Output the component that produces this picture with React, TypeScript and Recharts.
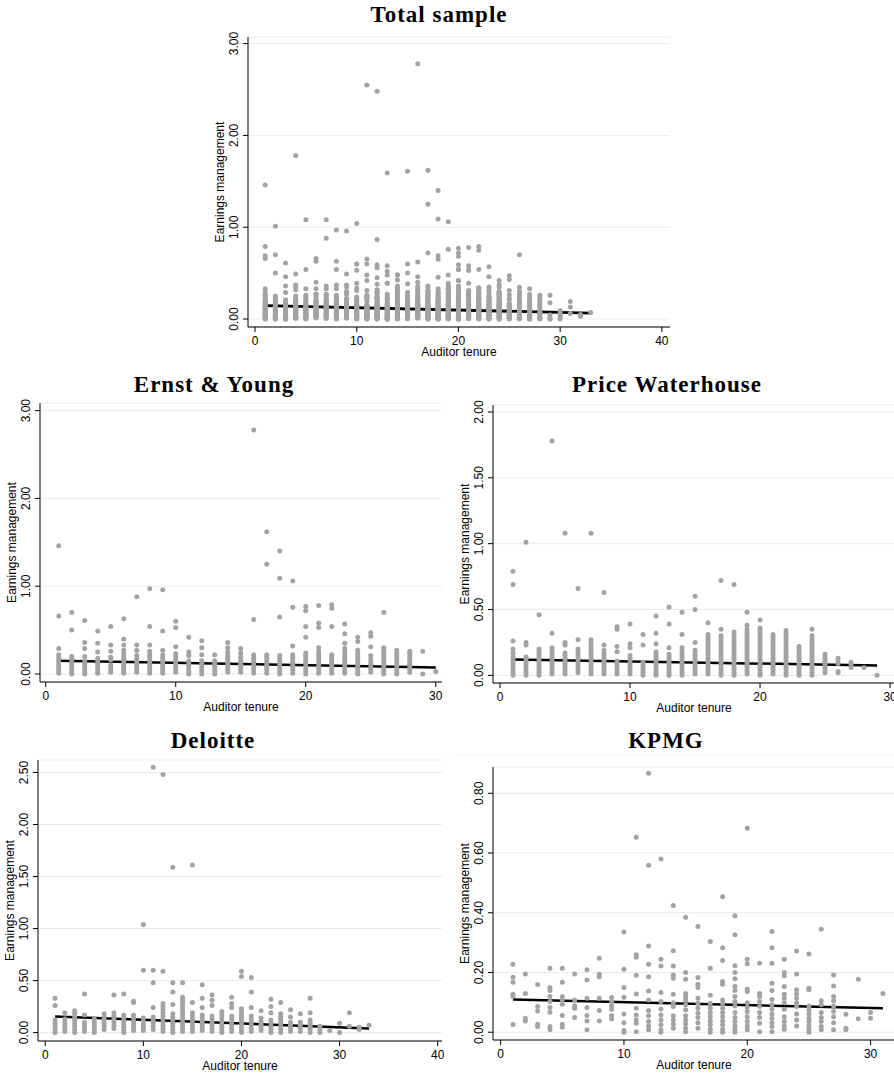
import React from 'react';
import { ScatterChart, Scatter, XAxis, YAxis, CartesianGrid, ReferenceLine } from 'recharts';

// values per auditor tenure (index 0 = tenure 1)
const EY_VALUES: number[][] = [
  [1.46, 0.66, 0.29, 0.22, 0.19, 0.16, 0.13, 0.1, 0.07, 0.04, 0.01],
  [0.7, 0.5, 0.2, 0.17, 0.14, 0.11, 0.08, 0.05, 0.02, 0],
  [0.61, 0.36, 0.29, 0.2, 0.15, 0.12, 0.09, 0.06, 0.03, 0],
  [0.49, 0.35, 0.25, 0.18, 0.15, 0.12, 0.09, 0.06, 0.03, 0.01],
  [0.54, 0.33, 0.26, 0.19, 0.16, 0.1, 0.07, 0.04, 0.02],
  [0.63, 0.4, 0.33, 0.27, 0.24, 0.21, 0.18, 0.15, 0.12, 0.09, 0.06, 0.03, 0.01],
  [0.88, 0.33, 0.27, 0.21, 0.17, 0.14, 0.11, 0.08, 0.05, 0.02],
  [0.97, 0.54, 0.33, 0.26, 0.22, 0.19, 0.16, 0.13, 0.1, 0.07, 0.04, 0.01],
  [0.96, 0.49, 0.27, 0.22, 0.19, 0.16, 0.13, 0.1, 0.07, 0.04, 0.01],
  [0.6, 0.53, 0.31, 0.23, 0.2, 0.17, 0.14, 0.11, 0.08, 0.05, 0.02],
  [0.42, 0.25, 0.21, 0.15, 0.12, 0.09, 0.06, 0.03, 0],
  [0.38, 0.3, 0.22, 0.15, 0.12, 0.09, 0.06, 0.03, 0],
  [0.22, 0.15, 0.12, 0.09, 0.06, 0.03, 0],
  [0.36, 0.3, 0.25, 0.23, 0.2, 0.17, 0.14, 0.11, 0.08, 0.05, 0.02],
  [0.29, 0.24, 0.2, 0.17, 0.14, 0.11, 0.08, 0.05, 0.02],
  [2.78, 0.62, 0.22, 0.19, 0.16, 0.13, 0.1, 0.07, 0.04, 0.01],
  [1.62, 1.25, 0.22, 0.19, 0.16, 0.13, 0.1, 0.07, 0.04, 0.01],
  [1.4, 1.09, 0.65, 0.21, 0.18, 0.15, 0.12, 0.09, 0.06, 0.03, 0],
  [1.06, 0.76, 0.32, 0.22, 0.19, 0.16, 0.13, 0.1, 0.07, 0.04, 0.01],
  [0.77, 0.72, 0.54, 0.42, 0.24, 0.21, 0.18, 0.15, 0.12, 0.09, 0.06, 0.03, 0],
  [0.78, 0.58, 0.53, 0.3, 0.25, 0.22, 0.19, 0.16, 0.13, 0.1, 0.07, 0.04, 0.01],
  [0.79, 0.75, 0.54, 0.22, 0.19, 0.16, 0.13, 0.1, 0.07, 0.04, 0.01],
  [0.57, 0.46, 0.35, 0.29, 0.25, 0.22, 0.19, 0.16, 0.13, 0.1, 0.07, 0.04, 0.01],
  [0.42, 0.37, 0.27, 0.24, 0.21, 0.18, 0.15, 0.12, 0.09, 0.06, 0.03, 0],
  [0.47, 0.43, 0.31, 0.21, 0.17, 0.14, 0.11, 0.08, 0.05, 0.02],
  [0.7, 0.3, 0.27, 0.24, 0.21, 0.18, 0.15, 0.12, 0.09, 0.06, 0.03, 0],
  [0.27, 0.24, 0.21, 0.18, 0.15, 0.12, 0.09, 0.06, 0.03, 0],
  [0.26, 0.23, 0.2, 0.17, 0.14, 0.11, 0.08, 0.05, 0.02],
  [0.26, 0],
  [0.03],
];

const PW_VALUES: number[][] = [
  [0.79, 0.69, 0.26, 0.2, 0.17, 0.14, 0.12, 0.1, 0.08, 0.06, 0.04, 0.02, 0],
  [1.01, 0.25, 0.23, 0.14, 0.12, 0.1, 0.08, 0.06, 0.04, 0.02, 0],
  [0.46, 0.2, 0.18, 0.16, 0.14, 0.12, 0.1, 0.08, 0.06, 0.04, 0.02, 0],
  [1.78, 0.32, 0.21, 0.19, 0.17, 0.15, 0.13, 0.11, 0.09, 0.07, 0.05, 0.03, 0.01],
  [1.08, 0.25, 0.23, 0.17, 0.15, 0.13, 0.11, 0.09, 0.07, 0.05, 0.03, 0.01],
  [0.66, 0.27, 0.2, 0.18, 0.16, 0.14, 0.12, 0.1, 0.08, 0.06, 0.04, 0.02],
  [1.08, 0.27, 0.25, 0.23, 0.21, 0.19, 0.17, 0.15, 0.13, 0.11, 0.09, 0.07, 0.05, 0.03, 0.01],
  [0.63, 0.23, 0.19, 0.17, 0.15, 0.13, 0.11, 0.09, 0.07, 0.05, 0.03, 0.01],
  [0.37, 0.35, 0.22, 0.18, 0.11, 0.09, 0.07, 0.05, 0.03, 0.01],
  [0.39, 0.24, 0.21, 0.15, 0.13, 0.11, 0.09, 0.07, 0.05, 0.03, 0.01],
  [0.31, 0.23, 0.1, 0.08, 0.06, 0.04, 0.02, 0],
  [0.45, 0.32, 0.24, 0.18, 0.16, 0.14, 0.12, 0.1, 0.08, 0.06, 0.04, 0.02, 0],
  [0.52, 0.39, 0.21, 0.16, 0.14, 0.12, 0.1, 0.08, 0.06, 0.04, 0.02, 0],
  [0.48, 0.31, 0.21, 0.18, 0.16, 0.14, 0.12, 0.1, 0.08, 0.06, 0.04, 0.02, 0],
  [0.6, 0.5, 0.25, 0.19, 0.17, 0.15, 0.13, 0.11, 0.09, 0.07, 0.05, 0.03, 0.01],
  [0.4, 0.31, 0.29, 0.27, 0.25, 0.23, 0.21, 0.19, 0.17, 0.15, 0.13, 0.11, 0.09, 0.07, 0.05, 0.03, 0.01],
  [0.72, 0.35, 0.3, 0.28, 0.26, 0.24, 0.22, 0.2, 0.18, 0.16, 0.14, 0.12, 0.1, 0.08, 0.06, 0.04, 0.02, 0],
  [0.69, 0.33, 0.3, 0.28, 0.26, 0.24, 0.22, 0.2, 0.18, 0.16, 0.14, 0.12, 0.1, 0.08, 0.06, 0.04, 0.02, 0],
  [0.48, 0.38, 0.35, 0.33, 0.31, 0.29, 0.27, 0.25, 0.23, 0.21, 0.19, 0.17, 0.15, 0.13, 0.11, 0.09, 0.07, 0.05, 0.03, 0.01],
  [0.42, 0.36, 0.34, 0.32, 0.3, 0.28, 0.26, 0.24, 0.22, 0.2, 0.18, 0.16, 0.14, 0.12, 0.1, 0.08, 0.06, 0.04, 0.02, 0],
  [0.31, 0.29, 0.27, 0.25, 0.23, 0.21, 0.19, 0.17, 0.15, 0.13, 0.11, 0.09, 0.07, 0.05, 0.03, 0.01],
  [0.34, 0.32, 0.3, 0.28, 0.26, 0.24, 0.22, 0.2, 0.18, 0.16, 0.14, 0.12, 0.1, 0.08, 0.06, 0.04, 0.02, 0],
  [0.22, 0.2, 0.18, 0.16, 0.14, 0.12, 0.1, 0.08, 0.06, 0.04, 0.02, 0],
  [0.35, 0.3, 0.28, 0.26, 0.24, 0.22, 0.2, 0.18, 0.16, 0.14, 0.12, 0.1, 0.08, 0.06, 0.04, 0.02, 0],
  [0.16, 0.14, 0.12, 0.1, 0.08, 0.06, 0.04, 0.02],
  [0.13, 0.11, 0.09, 0.03, 0.02],
  [0.1, 0.08, 0.06],
  [0.06],
  [0],
];

const DELOITTE_VALUES: number[][] = [
  [0.33, 0.26, 0.12, 0.09, 0.06, 0.03, 0],
  [0.19, 0.13, 0.1, 0.07, 0.04, 0.01],
  [0.21, 0.18, 0.15, 0.12, 0.09, 0.06, 0.03, 0],
  [0.37, 0.17, 0.1, 0.07, 0.04, 0.01],
  [0.13, 0.1, 0.07, 0.04, 0.01, 0],
  [0.18, 0.15, 0.12, 0.09, 0.06, 0.03],
  [0.36, 0.19, 0.16, 0.13, 0.1, 0.07, 0.04],
  [0.37, 0.17, 0.14, 0.11, 0.08, 0.05, 0.02, 0],
  [0.3, 0.29, 0.17, 0.14, 0.11, 0.08, 0.05, 0.02],
  [1.04, 0.6, 0.14, 0.11, 0.08, 0.05, 0.02],
  [2.55, 0.6, 0.48, 0.24, 0.15, 0.12, 0.09, 0.06, 0.03],
  [2.48, 0.59, 0.28, 0.25, 0.22, 0.19, 0.16, 0.13, 0.1, 0.07, 0.04, 0.01],
  [1.59, 0.48, 0.39, 0.27, 0.18, 0.15, 0.12, 0.09, 0.06, 0.03, 0],
  [0.48, 0.34, 0.31, 0.28, 0.25, 0.22, 0.19, 0.16, 0.13, 0.1, 0.07, 0.04, 0.01],
  [1.61, 0.29, 0.19, 0.16, 0.13, 0.1, 0.07, 0.04, 0.01],
  [0.46, 0.33, 0.24, 0.17, 0.14, 0.11, 0.08, 0.05, 0.02],
  [0.36, 0.31, 0.26, 0.16, 0.13, 0.1, 0.07, 0.04, 0.01],
  [0.2, 0.17, 0.14, 0.11, 0.08, 0.05, 0.02, 0],
  [0.34, 0.28, 0.24, 0.16, 0.13, 0.1, 0.07, 0.04, 0.01],
  [0.59, 0.54, 0.23, 0.2, 0.17, 0.14, 0.11, 0.08, 0.05, 0.02, 0],
  [0.53, 0.39, 0.24, 0.16, 0.13, 0.1, 0.07, 0.04, 0.01],
  [0.21, 0.14, 0.11, 0.08, 0.05, 0.02],
  [0.32, 0.25, 0.19, 0.12, 0.09, 0.06, 0.03, 0],
  [0.29, 0.18, 0.15, 0.12, 0.09, 0.06, 0.03, 0],
  [0.22, 0.15, 0.1, 0.07, 0.04, 0.01],
  [0.18, 0.1, 0.07, 0.04, 0.01],
  [0.33, 0.19, 0.12, 0.09, 0.06, 0.03, 0],
  [0.06, 0.03, 0],
  [0.02],
  [0.09, 0],
  [0.19, 0.06],
  [0.05, 0.03],
  [0.07],
];

const KPMG_VALUES: number[][] = [
  [0.228, 0.184, 0.167, 0.127, 0.12, 0.026],
  [0.195, 0.13, 0.047, 0.038],
  [0.16, 0.086, 0.071, 0.027, 0.019],
  [0.214, 0.15, 0.14, 0.12, 0.103, 0.083, 0.067, 0.019, 0.008],
  [0.214, 0.167, 0.12, 0.108, 0.094, 0.056, 0.027, 0.017],
  [0.195, 0.108, 0.089, 0.08, 0.049],
  [0.209, 0.175, 0.114, 0.083, 0.056, 0.038, 0.008],
  [0.248, 0.194, 0.186, 0.114, 0.073, 0.038],
  [0.116, 0.103, 0.088, 0.077, 0.055, 0.045],
  [0.336, 0.211, 0.15, 0.117, 0.061, 0.032, 0.006, 0],
  [0.653, 0.259, 0.251, 0.191, 0.128, 0.08, 0.058, 0.041, 0.03, 0.002],
  [0.867, 0.559, 0.289, 0.228, 0.186, 0.138, 0.108, 0.073, 0.055, 0.036, 0.021, 0.008],
  [0.58, 0.244, 0.222, 0.133, 0.103, 0.078, 0.058, 0.041, 0.025, 0.008, 0],
  [0.424, 0.273, 0.222, 0.192, 0.181, 0.127, 0.099, 0.086, 0.055, 0.041, 0.027, 0.013],
  [0.385, 0.2, 0.177, 0.13, 0.12, 0.108, 0.092, 0.075, 0.055, 0.041, 0.028, 0.013, 0.002],
  [0.354, 0.183, 0.161, 0.15, 0.114, 0.097, 0.08, 0.064, 0.049, 0.032, 0.013],
  [0.304, 0.214, 0.124, 0.097, 0.08, 0.066, 0.052, 0.038, 0.025, 0.01, 0],
  [0.454, 0.283, 0.24, 0.17, 0.161, 0.108, 0.095, 0.08, 0.066, 0.052, 0.038, 0.025, 0.01, 0],
  [0.39, 0.326, 0.223, 0.2, 0.179, 0.153, 0.14, 0.12, 0.103, 0.088, 0.066, 0.049, 0.036, 0.021, 0.008, 0],
  [0.683, 0.244, 0.229, 0.144, 0.136, 0.099, 0.084, 0.069, 0.052, 0.036, 0.021, 0.008],
  [0.231, 0.13, 0.12, 0.103, 0.086, 0.066, 0.049, 0.03, 0.002],
  [0.337, 0.283, 0.231, 0.164, 0.14, 0.11, 0.092, 0.077, 0.061, 0.047, 0.032, 0.019, 0.002],
  [0.244, 0.2, 0.189, 0.153, 0.127, 0.114, 0.099, 0.077, 0.052, 0.036, 0.021, 0.01],
  [0.272, 0.195, 0.142, 0.128, 0.114, 0.099, 0.086, 0.061, 0.041, 0.021],
  [0.262, 0.147, 0.142, 0.088, 0.075, 0.061, 0.047, 0.036, 0.021, 0.01, 0],
  [0.345, 0.105, 0.092, 0.066, 0.049, 0.036, 0.019, 0.008],
  [0.192, 0.155, 0.12, 0.105, 0.088, 0.069, 0.052, 0.032, 0.008],
  [0.06, 0.013, 0.008],
  [0.177, 0.045],
  [0.066, 0.047],
  [0.13],
];

// fitted line end points (tenure, earnings management)
const TOTAL_FIT = [{ x: 1, y: 0.145 }, { x: 33, y: 0.065 }];
const EY_FIT = [{ x: 1, y: 0.15 }, { x: 30, y: 0.075 }];
const PW_FIT = [{ x: 1, y: 0.12 }, { x: 29, y: 0.075 }];
const DELOITTE_FIT = [{ x: 1, y: 0.155 }, { x: 33, y: 0.04 }];
const KPMG_FIT = [{ x: 1, y: 0.11 }, { x: 31, y: 0.08 }];

const X_TICKS_40 = [0, 10, 20, 30, 40];
const X_TICKS_30 = [0, 10, 20, 30];
const Y_TICKS_3 = [0, 1, 2, 3];
const Y_TICKS_2 = [0, 0.5, 1, 1.5, 2];
const Y_TICKS_25 = [0, 0.5, 1, 1.5, 2, 2.5];
const Y_TICKS_08 = [0, 0.2, 0.4, 0.6, 0.8];

const toPoints = (cols: number[][]) =>
  cols.flatMap((vals, i) => vals.map((v) => ({ x: i + 1, y: v })));

const EY_DATA = toPoints(EY_VALUES);
const PW_DATA = toPoints(PW_VALUES);
const DELOITTE_DATA = toPoints(DELOITTE_VALUES);
const KPMG_DATA = toPoints(KPMG_VALUES);
const TOTAL_DATA = [...EY_DATA, ...PW_DATA, ...DELOITTE_DATA, ...KPMG_DATA];

const SANS = '"Liberation Sans", Arial, sans-serif';
const SERIF = '"Liberation Serif", "Times New Roman", serif';

const PANELS = [
  {
    title: 'Total sample', titleX: 439, titleY: 22,
    plot: { left: 248, top: 37, width: 422, height: 290 },
    xDomain: [-0.69, 40.8], yDomain: [-0.087, 3.072],
    xTicks: X_TICKS_40, yTicks: Y_TICKS_3, data: TOTAL_DATA, fit: TOTAL_FIT, lineW: 2.8,
  },
  {
    title: 'Ernst & Young', titleX: 214, titleY: 392,
    plot: { left: 40, top: 403, width: 402, height: 279 },
    xDomain: [-0.44, 30.48], yDomain: [-0.091, 3.087],
    xTicks: X_TICKS_30, yTicks: Y_TICKS_3, data: EY_DATA, fit: EY_FIT, lineW: 2.5,
  },
  {
    title: 'Price Waterhouse', titleX: 667, titleY: 392,
    plot: { left: 493, top: 405, width: 402, height: 278 },
    xDomain: [-0.54, 30.38], yDomain: [-0.058, 2.053],
    xTicks: X_TICKS_30, yTicks: Y_TICKS_2, data: PW_DATA, fit: PW_FIT, lineW: 2.5,
  },
  {
    title: 'Deloitte', titleX: 213, titleY: 748,
    plot: { left: 38, top: 760, width: 404, height: 281 },
    xDomain: [-0.74, 40.44], yDomain: [-0.081, 2.62],
    xTicks: X_TICKS_40, yTicks: Y_TICKS_25, data: DELOITTE_DATA, fit: DELOITTE_FIT, lineW: 2.5,
  },
  {
    title: 'KPMG', titleX: 666, titleY: 748,
    plot: { left: 493, top: 767, width: 402, height: 273 },
    xDomain: [-0.62, 31.98], yDomain: [-0.026, 0.888],
    xTicks: X_TICKS_30, yTicks: Y_TICKS_08, data: KPMG_DATA, fit: KPMG_FIT, lineW: 2.5,
  },
];

const YTick = (props: any) => {
  const { x, y, payload } = props;
  return (
    <text
      x={x}
      y={y}
      transform={`rotate(-90 ${x} ${y})`}
      textAnchor="middle"
      fontSize={12}
      fontFamily={SANS}
      fill="#000"
    >
      {Number(payload.value).toFixed(2)}
    </text>
  );
};

const Dot = (props: any) => <circle cx={props.cx} cy={props.cy} r={2.5} fill="#a3a3a3" />;

const YW = 50;
const XH = 40;
const MT = 20;
const MR = 2;

const Panel = ({ p }: { p: (typeof PANELS)[number] }) => {
  const { left, top, width, height } = p.plot;
  return (
    <div style={{ position: 'absolute', left: left - YW, top: top - MT }}>
      <ScatterChart
        width={width + YW + MR}
        height={height + MT + XH}
        margin={{ top: MT, right: MR, left: 0, bottom: 0 }}
      >
        <CartesianGrid vertical={false} stroke="#e4eded" />
        <XAxis
          type="number"
          dataKey="x"
          domain={p.xDomain}
          ticks={p.xTicks}
          interval={0}
          allowDataOverflow
          height={XH}
          tickSize={5}
          tickMargin={4}
          axisLine={{ stroke: '#000' }}
          tickLine={{ stroke: '#000' }}
          tick={{ fontSize: 12, fill: '#000', fontFamily: SANS }}
        />
        <YAxis
          type="number"
          dataKey="y"
          domain={p.yDomain}
          ticks={p.yTicks}
          interval={0}
          allowDataOverflow
          width={YW}
          tickSize={5}
          tickMargin={5}
          axisLine={{ stroke: '#000' }}
          tickLine={{ stroke: '#000' }}
          tick={<YTick />}
        />
        <Scatter data={p.data} shape={Dot} isAnimationActive={false} />
        <ReferenceLine segment={p.fit} stroke="#000" strokeWidth={p.lineW} ifOverflow="visible" />
      </ScatterChart>
    </div>
  );
};

const App = () => (
  <div
    style={{
      position: 'absolute',
      left: 0,
      top: 0,
      width: 894,
      height: 1074,
      overflow: 'hidden',
      background: '#fff',
    }}
  >
    {PANELS.map((p) => (
      <Panel key={p.title} p={p} />
    ))}
    <svg width={894} height={1074} style={{ position: 'absolute', left: 0, top: 0, pointerEvents: 'none' }}>
      <line x1={455} y1={755} x2={894} y2={755} stroke="#eef3f3" />
      {PANELS.map((p) => (
        <g key={p.title}>
          <text
            x={p.titleX}
            y={p.titleY}
            textAnchor="middle"
            fontFamily={SERIF}
            fontWeight="bold"
            fontSize={23}
            letterSpacing={1}
            fill="#000"
          >
            {p.title}
          </text>
          <text
            x={p.plot.left + p.plot.width / 2}
            y={p.plot.top + p.plot.height + 29}
            textAnchor="middle"
            fontFamily={SANS}
            fontSize={12}
            fill="#000"
          >
            Auditor tenure
          </text>
          <text
            x={p.plot.left - 24}
            y={p.plot.top + p.plot.height / 2}
            transform={`rotate(-90 ${p.plot.left - 24} ${p.plot.top + p.plot.height / 2})`}
            textAnchor="middle"
            fontFamily={SANS}
            fontSize={12}
            fill="#000"
          >
            Earnings management
          </text>
        </g>
      ))}
    </svg>
  </div>
);

export default App;
